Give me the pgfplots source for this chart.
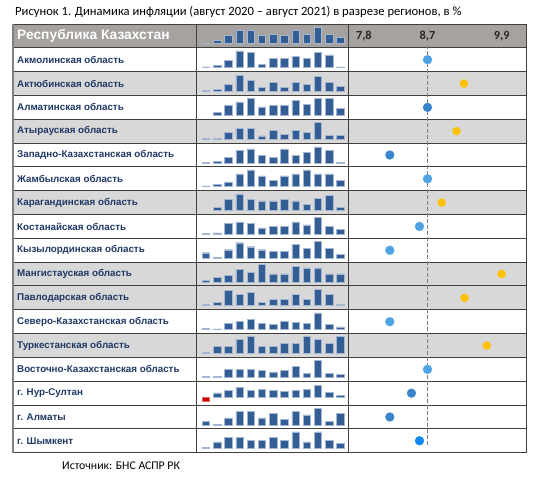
\documentclass[border=0pt]{standalone}
\usepackage{pgfplots}
\pgfplotsset{compat=1.18}
\usepackage{fontspec}
\setmainfont{Carlito}
\newfontfamily\labfont{Liberation Sans}
\definecolor{headgray}{HTML}{A6A29F}
\definecolor{rowgray}{HTML}{D9D8D8}
\definecolor{gridc}{HTML}{3F3F3F}
\definecolor{navy}{HTML}{1F3864}
\definecolor{sparkblue}{HTML}{325E94}
\definecolor{sparkedge}{HTML}{A3B6D2}
\definecolor{dotlight}{HTML}{4DA3E4}
\definecolor{dotdark}{HTML}{3A86CD}
\definecolor{dotbright}{HTML}{1188EE}
\definecolor{dotorange}{HTML}{FFC000}
\definecolor{dashc}{HTML}{7F7F7F}
\definecolor{redbar}{HTML}{D00000}
\pgfplotsset{
  spark/.style={scale only axis, anchor=south west, x=11.2pt, y=0.3333pt,
    xmin=0.5, xmax=13.5, ymin=0, ymax=52, hide axis, clip=false},
  sparkbar/.style={ybar, bar width=7.4pt, bar shift=0pt, fill=sparkblue, draw=sparkedge, line width=0.45pt},
  dots/.style={only marks, mark=*, mark size=4.4pt, mark options={draw=none}},
}
\newcommand{\spark}[2]{%
  \pgfmathsetmacro{\sy}{435.3-23.82*#1}%
  \begin{axis}[spark, at={(200.4pt,\sy pt)}]
    \addplot[sparkbar] coordinates {#2};
  \end{axis}}
\newcommand{\rowlab}[2]{\node[anchor=west, inner sep=0pt, text=navy, font=\labfont\bfseries\fontsize{9.8}{11}\selectfont] at (axis cs:2.058,#1.5) {#2};}
\begin{document}
\begin{tikzpicture}
\useasboundingbox (0,0) rectangle (537pt,479pt);
\node[anchor=base west, inner sep=0pt, font=\fontsize{12.6}{14}\selectfont] at (15pt,463pt) {Рисунок 1. Динамика инфляции (август 2020 – август 2021) в разрезе регионов, в \%};
\node[anchor=base west, inner sep=0pt, font=\fontsize{11.8}{13}\selectfont] at (62pt,10pt) {Источник: БНС АСПР РК};

\begin{axis}[name=main, at={(13pt,26.3pt)}, anchor=south west, scale only axis,
  width=513pt, height=428.7pt, xmin=1.993, xmax=10.294, ymin=0, ymax=18,
  y dir=reverse, hide axis, clip=false]
  % backgrounds
  \fill[headgray] (axis cs:1.993,0) rectangle (axis cs:10.294,1);
  \pgfplotsinvokeforeach{2,4,7,10,11,13}{
    \fill[rowgray] (axis cs:1.993,#1) rectangle (axis cs:10.294,#1+1);
  }
  % grid
  \pgfplotsinvokeforeach{0,...,18}{
    \draw[gridc, line width=1pt] (axis cs:1.993,#1) -- (axis cs:10.294,#1);
  }
  \pgfplotsinvokeforeach{4.970,7.414,10.294}{
    \draw[gridc, line width=1pt] (axis cs:#1,0) -- (axis cs:#1,18);
  }
  \draw[gray, line width=1.6pt] (axis cs:1.993,0) -- (axis cs:1.993,18);
  % header texts
  \node[anchor=west, inner sep=0pt, text=white, font=\labfont\bfseries\fontsize{13.8}{15}\selectfont] at (axis cs:2.058,0.5) {Республика Казахстан};
  \node[anchor=east, inner sep=0pt, text=black!85, font=\bfseries\fontsize{12.3}{13}\selectfont] at (axis cs:7.8,0.5) {7,8};
  \node[inner sep=0pt, text=black!85, font=\bfseries\fontsize{12.3}{13}\selectfont] at (axis cs:8.7,0.5) {8,7};
  \node[inner sep=0pt, text=black!85, font=\bfseries\fontsize{12.3}{13}\selectfont] at (axis cs:9.9,0.5) {9,9};
  % row labels
  \rowlab{1}{Акмолинская область}
  \rowlab{2}{Актюбинская область}
  \rowlab{3}{Алматинская область}
  \rowlab{4}{Атырауская область}
  \rowlab{5}{Западно-Казахстанская область}
  \rowlab{6}{Жамбылская область}
  \rowlab{7}{Карагандинская область}
  \rowlab{8}{Костанайская область}
  \rowlab{9}{Кызылординская область}
  \rowlab{10}{Мангистауская область}
  \rowlab{11}{Павлодарская область}
  \rowlab{12}{Северо-Казахстанская область}
  \rowlab{13}{Туркестанская область}
  \rowlab{14}{Восточно-Казахстанская область}
  \rowlab{15}{г. Нур-Султан}
  \rowlab{16}{г. Алматы}
  \rowlab{17}{г. Шымкент}
  % dashed reference line
  \addplot[dashc, line width=1.3pt, dash pattern=on 3.5pt off 2.5pt] coordinates {(8.7,0.9) (8.7,17.75)};
  % dots
  \addplot[dots, dotlight, mark options={fill=dotlight}]
    coordinates {(8.7,1.5) (8.7,6.5) (8.57,8.5) (8.09,9.5) (8.09,12.5) (8.7,14.5)};
  \addplot[dots, dotdark, mark options={fill=dotdark}]
    coordinates {(8.7,3.5) (8.09,5.5) (8.44,15.5) (8.09,16.5)};
  \addplot[dots, dotbright, mark options={fill=dotbright}]
    coordinates {(8.57,17.5)};
  \addplot[dots, dotorange, mark size=4pt, mark options={fill=dotorange}]
    coordinates {(9.29,2.5) (9.17,4.5) (8.93,7.5) (9.9,10.5) (9.3,11.5) (9.66,13.5)};
\end{axis}

% sparklines
\spark{0}{(1,2) (2,11) (3,24) (4,40) (5,40) (6,24) (7,28) (8,24) (9,40) (10,28) (11,49) (12,28) (13,19)}
\spark{1}{(1,2) (2,7) (3,22) (4,50) (5,46) (6,10) (7,28) (8,28) (9,34) (10,28) (11,45) (12,38) (13,2)}
\spark{2}{(1,2) (2,6) (3,21) (4,49) (5,33) (6,11) (7,26) (8,11) (9,26) (10,21) (11,45) (12,26) (13,15)}
\spark{3}{(2,9) (3,29) (4,40) (5,51) (6,25) (7,29) (8,29) (9,45) (10,33) (11,51) (12,51) (13,20)}
\spark{4}{(1,2) (2,2) (3,20) (4,31) (5,31) (6,9) (7,26) (8,14) (9,26) (10,20) (11,49) (12,10) (13,10)}
\spark{5}{(1,2) (2,5) (3,16) (4,37) (5,42) (6,23) (7,16) (8,42) (9,23) (10,31) (11,48) (12,37) (13,2)}
\spark{6}{(1,2) (2,6) (3,14) (4,38) (5,50) (6,32) (7,18) (8,32) (9,38) (10,50) (11,38) (12,38) (13,18)}
\spark{7}{(2,9) (3,34) (4,50) (5,34) (6,29) (7,29) (8,34) (9,29) (10,19) (11,37) (12,46) (13,9)}
\spark{8}{(1,2) (2,4) (3,32) (4,37) (5,32) (6,19) (7,23) (8,23) (9,37) (10,28) (11,51) (12,23) (13,14)}
\spark{9}{(1,16) (2,3) (3,25) (4,46) (5,34) (6,25) (7,20) (8,20) (9,41) (10,30) (11,50) (12,29) (13,11)}
\spark{10}{(1,4) (2,14) (3,20) (4,38) (5,29) (6,52) (7,24) (8,24) (9,47) (10,42) (11,42) (12,24) (13,24)}
\spark{11}{(1,3) (2,11) (3,45) (4,34) (5,41) (6,11) (7,20) (8,20) (9,34) (10,20) (11,50) (12,34) (13,3)}
\spark{12}{(1,3) (2,2) (3,19) (4,25) (5,31) (6,19) (7,15) (8,25) (9,21) (10,19) (11,50) (12,15) (13,8)}
\spark{13}{(1,2) (2,22) (3,22) (4,43) (5,50) (6,22) (7,22) (8,29) (9,29) (10,50) (11,43) (12,29) (13,50)}
\spark{14}{(1,2) (2,2) (3,23) (4,23) (5,23) (6,20) (7,16) (8,20) (9,32) (10,11) (11,50) (12,11) (13,8)}
\begin{axis}[spark, ymin=-13, at={(200.4pt,77.67pt)}]
  \addplot[sparkbar] coordinates {(2,12) (3,19) (4,30) (5,21) (6,24) (7,21) (8,18) (9,21) (10,24) (11,36) (12,13) (13,4)};
  \addplot[sparkbar, fill=redbar, draw=redbar!60] coordinates {(1,-13)};
\end{axis}
\spark{16}{(1,11) (2,2) (3,21) (4,40) (5,40) (6,21) (7,34) (8,16) (9,40) (10,30) (11,50) (12,10) (13,34)}
\spark{17}{(1,3) (2,20) (3,33) (4,33) (5,24) (6,24) (7,33) (8,24) (9,50) (10,20) (11,50) (12,24) (13,15)}
\end{tikzpicture}
\end{document}
